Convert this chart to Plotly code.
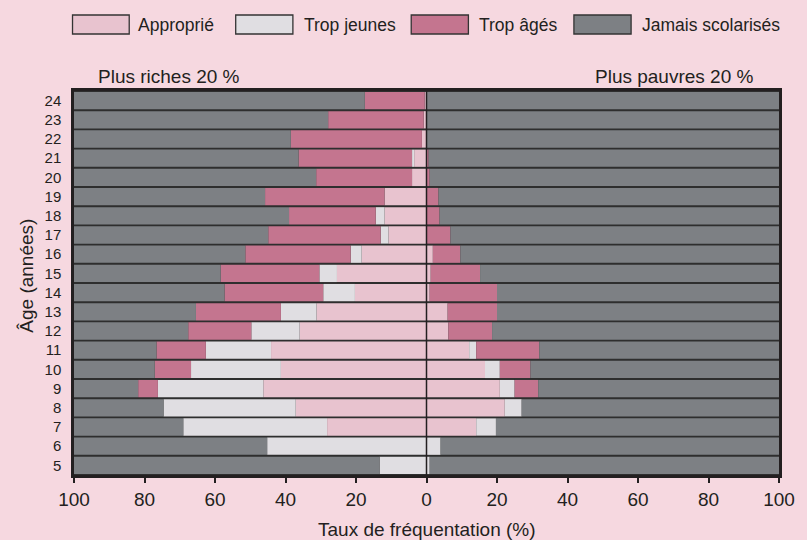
import plotly.graph_objects as go

# ---- data ----
ages = list(range(5, 25))

# Plus riches 20 % (left side)
rich_appropriate = [0, 0, 28.2, 37.1, 46.3, 41.3, 44.1, 36.0, 31.2, 20.3, 25.4, 18.4, 10.8, 11.9, 11.9, 4.1, 3.5, 1.3, 0.8, 0.5]
rich_too_young   = [13.3, 45.2, 40.8, 37.5, 29.9, 25.5, 18.5, 13.7, 10.1, 9.0, 5.0, 3.1, 2.2, 2.5, 0, 0, 0.6, 0, 0, 0]
rich_too_old     = [0, 0, 0, 0, 5.6, 10.3, 14.0, 17.9, 24.1, 28.0, 28.0, 29.9, 31.9, 24.6, 33.9, 27.2, 32.2, 37.2, 27.1, 17.0]

# Plus pauvres 20 % (right side)
poor_appropriate = [0, 0, 14.1, 22.2, 20.8, 16.6, 12.1, 6.2, 6.0, 0.9, 1.2, 1.8, 0, 0, 0, 0, 0, 0, 0, 0]
poor_too_young   = [0.9, 4.0, 5.6, 4.8, 4.2, 4.2, 2.0, 0, 0, 0, 0, 0, 0, 0, 0, 0, 0, 0, 0, 0]
poor_too_old     = [0, 0, 0, 0, 6.7, 8.7, 17.9, 12.4, 14.0, 19.1, 14.0, 7.8, 6.8, 3.7, 3.4, 0.9, 0.6, 0, 0, 0]

# never attended = remainder up to 100 %
rich_never = [100 - a - b - c for a, b, c in zip(rich_appropriate, rich_too_young, rich_too_old)]
poor_never = [100 - a - b - c for a, b, c in zip(poor_appropriate, poor_too_young, poor_too_old)]

categories = ["Approprié", "Trop jeunes", "Trop âgés", "Jamais scolarisés"]
colors = ["#e8c3cf", "#e0dee2", "#c4758f", "#7d8084"]

x_ticks = [-100, -80, -60, -40, -20, 0, 20, 40, 60, 80, 100]
x_ticktext = ["100", "80", "60", "40", "20", "0", "20", "40", "60", "80", "100"]

FONT = "Liberation Sans, Arial, Helvetica, sans-serif"
TXT = "#231f20"
BG = "#f6d8e0"

# ---- figure ----
fig = go.Figure()
left_series = [rich_appropriate, rich_too_young, rich_too_old, rich_never]
right_series = [poor_appropriate, poor_too_young, poor_too_old, poor_never]
for name, col, lv, rv in zip(categories, colors, left_series, right_series):
    fig.add_trace(go.Bar(y=ages, x=[-v for v in lv], orientation="h", name=name,
                         marker=dict(color=col, line=dict(width=0)), showlegend=False))
    fig.add_trace(go.Bar(y=ages, x=rv, orientation="h", name=name,
                         marker=dict(color=col, line=dict(width=0)), showlegend=False))

# plot area in pixels
L, R, T, B = 74, 789, 91, 475
W, H = 807, 540


def px(x):
    return (x - L) / (R - L)


def py(y):
    return (B - y) / (B - T)


shapes = []
annotations = []

# zero line
shapes.append(dict(type="line", xref="x", yref="paper", x0=0, x1=0, y0=0, y1=1,
                   line=dict(color="#231f20", width=1.5), layer="above"))

# manual legend
legend_boxes = [(72.5, 130, 137), (238, 296, 305), (416, 474, 483), (581, 639, 648)]
for (bx0, bx1, tx), name, col in zip(legend_boxes, categories, colors):
    shapes.append(dict(type="rect", xref="paper", yref="paper",
                       x0=px(bx0), x1=px(bx1), y0=py(34), y1=py(15),
                       fillcolor=col, line=dict(color="#333333", width=1.3)))
    annotations.append(dict(text=name, xref="paper", yref="paper", x=px(tx), y=py(24.5),
                            xanchor="left", yanchor="middle", showarrow=False,
                            font=dict(family=FONT, size=17.5, color=TXT)))

# side titles
annotations.append(dict(text="Plus riches 20 %", xref="paper", yref="paper", x=px(96), y=py(76),
                        xanchor="left", yanchor="middle", showarrow=False,
                        font=dict(family=FONT, size=19, color=TXT)))
annotations.append(dict(text="Plus pauvres 20 %", xref="paper", yref="paper", x=px(766), y=py(76),
                        xanchor="right", yanchor="middle", showarrow=False,
                        font=dict(family=FONT, size=19, color=TXT)))
# y axis title
annotations.append(dict(text="Âge (années)", xref="paper", yref="paper", x=px(25), y=py(276),
                        xanchor="center", yanchor="middle", textangle=-90, showarrow=False,
                        font=dict(family=FONT, size=19, color=TXT)))
# x axis title
annotations.append(dict(text="Taux de fréquentation (%)", xref="paper", yref="paper", x=px(431.5), y=py(529),
                        xanchor="center", yanchor="middle", showarrow=False,
                        font=dict(family=FONT, size=19, color=TXT)))

fig.update_layout(
    width=W, height=H, autosize=False,
    margin=dict(l=L, r=W - R, t=T, b=H - B, pad=0),
    paper_bgcolor=BG, plot_bgcolor="#2e2e2e",
    barmode="relative", bargap=0.1,
    font=dict(family=FONT, color=TXT),
    shapes=shapes, annotations=annotations,
    xaxis=dict(range=[-100, 100], tickvals=x_ticks, ticktext=x_ticktext,
               ticks="outside", ticklen=5, tickwidth=1.5, tickcolor="#231f20",
               showline=True, mirror=True, linewidth=2.5, linecolor="#231f20",
               showgrid=False, zeroline=False, tickfont=dict(size=19, color=TXT, family=FONT),
               fixedrange=True),
    yaxis=dict(range=[4.5, 24.5], tickvals=ages, ticktext=[str(a) for a in ages],
               ticks="", showline=True, mirror=True, linewidth=2.5, linecolor="#231f20",
               showgrid=False, zeroline=False, ticklabelstandoff=7,
               tickfont=dict(size=15, color=TXT, family=FONT), fixedrange=True),
)

fig.write_html("out.html",
               config={"displayModeBar": False, "responsive": False},
               post_script="document.body.style.margin='0';")
